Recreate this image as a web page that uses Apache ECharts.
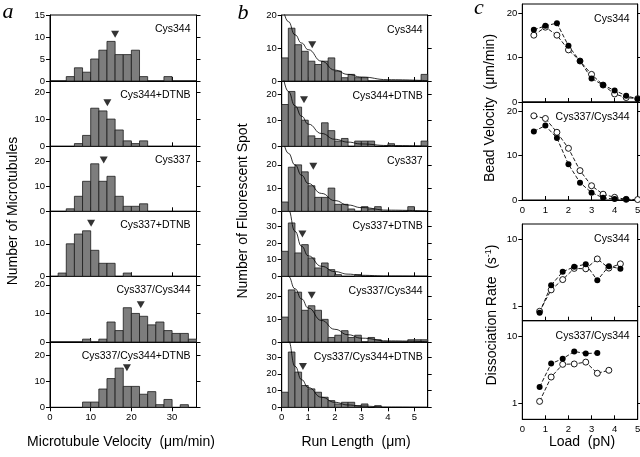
<!DOCTYPE html>
<html lang="en">
<head>
<meta charset="UTF-8">
<title>Microtubule velocity, run length and load dependence</title>
<style>
  html, body { margin: 0; padding: 0; background: #fff; }
  #chart { width: 640px; height: 457px; }
</style>
</head>
<body>
<div id="chart"></div>
<script src="https://cdn.jsdelivr.net/npm/echarts@6/dist/echarts.min.js"></script>
<script>
// ---- data: panel a, microtubule velocity histograms (bins of 2 um/min from 0) ----
const names = ['Cys344', 'Cys344+DTNB', 'Cys337', 'Cys337+DTNB', 'Cys337/Cys344', 'Cys337/Cys344+DTNB']
const velBinWidth = 2
const velCys344 = [0, 0, 1, 3, 2, 5, 7, 9, 6, 6, 7, 1, 0, 0, 1, 0, 0, 0]
const velCys344D = [0, 0, 0, 1, 4, 14, 13, 10, 6, 2, 1, 2, 0, 0, 0, 0, 0, 0]
const velCys337 = [0, 0, 1, 6, 12, 19, 12, 14, 6, 2, 2, 3, 0, 0, 0, 0, 0, 0]
const velCys337D = [0, 1, 10, 13, 14, 8, 4, 4, 0, 1, 0, 0, 0, 0, 0, 0, 0, 0]
const velDouble = [0, 0, 0, 0, 1, 0, 1, 7, 4, 12, 10, 9, 6, 7, 4, 3, 3, 1]
const velDoubleD = [0, 0, 0, 0, 2, 2, 7, 11, 15, 8, 8, 5, 6, 1, 3, 0, 1, 0]
const velMeanX = [16.0, 14.1, 13.2, 10.1, 22.3, 18.9]
const velMeanY = [10.6, 16, 20.5, 16.3, 13, 15.1]
const velYMax = [15, 24, 26, 20, 23, 25]
const velYTicks = [[0, 5, 10, 15], [0, 10, 20], [0, 10, 20], [0, 10], [0, 10, 20], [0, 10, 20]]
const velXTicks = [0, 10, 20, 30]

// ---- data: panel b, run length histograms (bins of 0.25 um from 0) ----
const runBinWidth = 0.25
const runCys344 = [7, 16, 11, 9, 6, 5, 6, 7, 3, 1, 2, 1, 1, 0, 0, 0, 0, 0, 0, 0, 0, 2]
const runCys344D = [16, 21, 15, 10, 4, 3, 9, 6, 2, 3, 0, 2, 2, 2, 0, 0, 1, 0, 0, 0, 0, 2]
const runCys337 = [4, 19, 20, 17, 11, 6, 6, 10, 3, 3, 1, 0, 2, 1, 2, 0, 0, 0, 0, 2, 0, 0]
const runCys337D = [15, 32, 14, 19, 11, 5, 8, 4, 1, 0, 0, 1, 0, 0, 0, 0, 0, 0, 0, 0, 0, 0]
const runDouble = [11, 23, 22, 14, 16, 14, 10, 2, 3, 5, 2, 3, 0, 2, 1, 0, 0, 0, 0, 1, 1, 1]
const runDoubleD = [9, 33, 21, 13, 11, 9, 6, 4, 2, 3, 3, 1, 2, 0, 1, 0, 0, 0, 0, 0, 0, 0]
const runMeanX = [1.15, 0.84, 1.19, 0.78, 1.13, 0.8]
const runMeanY = [11, 17.8, 19.4, 25.4, 20.6, 24.3]
// exponential fit curves
const fitX = [0, 0.25, 0.5, 0.75, 1, 1.5, 2, 2.5, 3, 4, 5.5]
const fitCys344 = [24, 18, 14, 11.5, 9.5, 6, 3.3, 2, 1.2, 0.4, 0.1]
const fitCys344D = [30, 21, 15.5, 11.5, 8.5, 4.9, 2.7, 1.6, 0.9, 0.3, 0.05]
const fitCys337 = [34, 25, 20, 15.5, 12, 7.7, 4.6, 2.7, 1.6, 0.5, 0.1]
const fitCys337D = [60, 40, 27, 18, 12.3, 6, 2.8, 1.3, 0.6, 0.15, 0]
const fitDouble = [36, 29, 23.5, 19, 15, 9.5, 5.6, 3.2, 1.7, 0.5, 0.1]
const fitDoubleD = [62, 40, 24.5, 16.5, 11.8, 6, 3, 1.4, 0.7, 0.15, 0]
const runYMax = [20, 25, 28, 39, 29, 39]
const runYTicks = [[0, 10, 20], [0, 10, 20], [0, 10, 20], [0, 10, 20, 30], [0, 10, 20], [0, 10, 20, 30]]
const runXTicks = [0, 1, 2, 3, 4, 5]

// ---- data: panel c, load dependence (filled = solid circles, open = open circles) ----
const loadV = [0.5, 1, 1.5, 2, 2.5, 3, 3.5, 4, 4.5, 5]
const vel344Filled = [16.2, 17.1, 17.7, 12.6, 9.2, 5.3, 3.8, 2.6, 1.4, 0.7]
const vel344Open = [15, 16.8, 15, 11.7, 9.2, 6.2, 3.8, 1.8, 1.0, 0.75]
const velDblFilled = [15.4, 16.7, 13.9, 8.0, 3.9, 1.65, 0.5, 0.2, 0.15]
const velDblOpen = [18.9, 18.3, 15.2, 11.6, 6.6, 3.2, 1.3, 0.6, 0.15, 0.1]
const loadD = [0.75, 1.25, 1.75, 2.25, 2.75, 3.25, 3.75, 4.25]
const rate344Filled = [0.79, 2.04, 3.25, 3.86, 4.22, 2.42, 3.94, 3.6]
const rate344Open = [0.83, 1.74, 2.48, 3.65, 3.6, 5.06, 3.69, 4.27]
const rateDblFilled = [1.75, 3.9, 4.6, 5.9, 5.5, 5.6]
const rateDblOpen = [1.07, 2.46, 3.8, 3.85, 4.1, 2.8, 3.1]
const loadTicks = [0, 1, 2, 3, 4, 5]
const beadTicks = [0, 10, 20]
const rateTicks = [1, 10]

// ---- layout ----
const rowEdges = [15, 81, 146.3, 211.3, 276.3, 342, 407.3]
const colA = { left: 50, width: 146.5 }
const colB = { left: 281.7, width: 146 }
const colC = { left: 522.3, width: 115.4 }
const rowsC = [[4, 102], [102, 200], [224, 320.7], [320.7, 419.3]]

const FONT = '"Liberation Sans", Arial, sans-serif'
const BAR_FILL = '#7d7d7d'
const BAR_EDGE = '#1c1c1c'

const grids = [], xAxes = [], yAxes = [], series = [], graphics = []

function addGrid(left, width, top, bottom) {
  grids.push({ left: left, top: top, width: width, height: bottom - top,
    show: true, borderColor: '#000', borderWidth: 1, backgroundColor: 'transparent',
    outerBoundsMode: 'none' })
  return grids.length - 1
}

function xAxis(g, min, max, ticks, showLabels, tickInside) {
  xAxes.push({ type: 'value', gridIndex: g, min: min, max: max,
    axisLine: { show: true, onZero: false, lineStyle: { color: '#000', width: 1 } },
    axisTick: { show: true, inside: tickInside, length: 4, customValues: ticks, lineStyle: { color: '#000' } },
    axisLabel: { show: showLabels, customValues: ticks, color: '#000', fontSize: 9.5, fontFamily: FONT, margin: 5 },
    splitLine: { show: false } })
  return xAxes.length - 1
}

function yAxisPair(g, type, min, max, ticks) {
  const base = { type: type, gridIndex: g, min: min, max: max,
    axisLine: { show: true, onZero: false, lineStyle: { color: '#000', width: 1 } },
    splitLine: { show: false } }
  yAxes.push(Object.assign({}, base, { position: 'left',
    axisTick: { show: true, length: 4, customValues: ticks, lineStyle: { color: '#000' } },
    axisLabel: { customValues: ticks, color: '#000', fontSize: 9.5, fontFamily: FONT, margin: 5 } }))
  yAxes.push(Object.assign({}, base, { position: 'right',
    axisTick: { show: true, length: 4, customValues: ticks, lineStyle: { color: '#000' } },
    axisLabel: { show: false } }))
  return yAxes.length - 2
}

function panelTitle(text, right, top) {
  graphics.push({ type: 'text', x: right, y: top,
    style: { text: text, fill: '#000', font: '10.5px ' + FONT, align: 'right', verticalAlign: 'middle' } })
}

function histItem(params, api) {
  const n = api.value(2)
  if (!n) return null
  const p0 = api.coord([api.value(0), n])
  const p1 = api.coord([api.value(1), 0])
  return { type: 'rect',
    shape: { x: p0[0], y: p0[1], width: p1[0] - p0[0], height: p1[1] - p0[1] },
    style: { fill: BAR_FILL, stroke: BAR_EDGE, lineWidth: 0.8 } }
}

function histSeries(xi, yi, counts, binWidth) {
  return { type: 'custom', xAxisIndex: xi, yAxisIndex: yi, renderItem: histItem,
    encode: { x: [0, 1], y: 2 }, silent: true,
    data: counts.map((n, k) => [k * binWidth, (k + 1) * binWidth, n]) }
}

function meanSeries(xi, yi, x, y) {
  return { type: 'scatter', xAxisIndex: xi, yAxisIndex: yi, symbol: 'triangle', symbolRotate: 180,
    symbolSize: [8, 7], itemStyle: { color: '#000' }, silent: true, data: [[x, y]], z: 5 }
}

// column a
const velCounts = [velCys344, velCys344D, velCys337, velCys337D, velDouble, velDoubleD]
velCounts.forEach((counts, i) => {
  const g = addGrid(colA.left, colA.width, rowEdges[i], rowEdges[i + 1])
  const last = i === velCounts.length - 1
  const xi = xAxis(g, 0, 36, velXTicks, last, !last)
  const yi = yAxisPair(g, 'value', 0, velYMax[i], velYTicks[i])
  series.push(histSeries(xi, yi, counts, velBinWidth))
  series.push(meanSeries(xi, yi, velMeanX[i], velMeanY[i]))
  panelTitle(names[i], colA.left + colA.width - 6, rowEdges[i] + 14)
})

// column b
const runCounts = [runCys344, runCys344D, runCys337, runCys337D, runDouble, runDoubleD]
const runFits = [fitCys344, fitCys344D, fitCys337, fitCys337D, fitDouble, fitDoubleD]
runCounts.forEach((counts, i) => {
  const g = addGrid(colB.left, colB.width, rowEdges[i], rowEdges[i + 1])
  const last = i === runCounts.length - 1
  const xi = xAxis(g, 0, 5.5, runXTicks, last, !last)
  const yi = yAxisPair(g, 'value', 0, runYMax[i], runYTicks[i])
  series.push(histSeries(xi, yi, counts, runBinWidth))
  series.push({ type: 'line', xAxisIndex: xi, yAxisIndex: yi, smooth: true, smoothMonotone: 'x',
    showSymbol: false, silent: true, z: 4, lineStyle: { color: '#000', width: 0.8 },
    data: fitX.map((x, k) => [x, runFits[i][k]]) })
  series.push(meanSeries(xi, yi, runMeanX[i], runMeanY[i]))
  panelTitle(names[i], colB.left + colB.width - 5, rowEdges[i] + 15)
})

// column c
const cPanels = [
  { title: 'Cys344', type: 'value', min: 0, max: 22, ticks: beadTicks, x: loadV, filled: vel344Filled, open: vel344Open },
  { title: 'Cys337/Cys344', type: 'value', min: 0, max: 22, ticks: beadTicks, x: loadV, filled: velDblFilled, open: velDblOpen },
  { title: 'Cys344', type: 'log', min: 0.6, max: 16.9, ticks: rateTicks, x: loadD, filled: rate344Filled, open: rate344Open },
  { title: 'Cys337/Cys344', type: 'log', min: 0.58, max: 16.9, ticks: rateTicks, x: loadD, filled: rateDblFilled, open: rateDblOpen }
]
cPanels.forEach((p, j) => {
  const g = addGrid(colC.left, colC.width, rowsC[j][0], rowsC[j][1])
  const xi = xAxis(g, 0, 5, loadTicks, j === 1 || j === 3, true)
  const yi = yAxisPair(g, p.type, p.min, p.max, p.ticks)
  const line = { color: '#000', width: 0.9, type: [4, 2] }
  series.push({ type: 'line', xAxisIndex: xi, yAxisIndex: yi, symbol: 'circle', symbolSize: 6,
    itemStyle: { color: '#fff', borderColor: '#000', borderWidth: 0.9 }, lineStyle: line, silent: true,
    emphasis: { disabled: true }, data: p.open.map((v, k) => [p.x[k], v]) })
  series.push({ type: 'line', xAxisIndex: xi, yAxisIndex: yi, symbol: 'circle', symbolSize: 6,
    itemStyle: { color: '#000', borderWidth: 0 }, lineStyle: line, silent: true, z: 3,
    emphasis: { disabled: true }, data: p.filled.map((v, k) => [p.x[k], v]) })
  panelTitle(p.title, colC.left + colC.width - 8, rowsC[j][0] + 15)
})

// axis titles and panel letters
function label(text, x, y, rotate, rich) {
  graphics.push({ type: 'text', x: x, y: y, rotation: rotate ? Math.PI / 2 : 0,
    style: { text: text, fill: '#000', font: '14px ' + FONT, align: 'center', verticalAlign: 'middle', rich: rich } })
}
label('Number of Microtubules', 13, 211, true)
label('Microtubule Velocity  (\u03bcm/min)', 121, 442, false)
label('Number of Fluorescent Spot', 243, 211, true)
label('Run Length  (\u03bcm)', 356, 442, false)
label('Bead Velocity  (\u03bcm/min)', 490, 108, true)
label('{n|Dissociation Rate  (s}{s|-1}{n|)}', 492, 315, true,
  { n: { fontSize: 14, fontFamily: FONT, fill: '#000' }, s: { fontSize: 9, fontFamily: FONT, fill: '#000', verticalAlign: 'top', padding: [0, 0, 6, 0] } })
label('Load  (pN)', 582, 442, false)

const letterFont = 'italic 22px "Liberation Serif", "Times New Roman", serif'
graphics.push({ type: 'text', x: 8, y: 12, style: { text: 'a', font: letterFont, fill: '#000', align: 'center', verticalAlign: 'middle' } })
graphics.push({ type: 'text', x: 243, y: 13, style: { text: 'b', font: letterFont, fill: '#000', align: 'center', verticalAlign: 'middle' } })
graphics.push({ type: 'text', x: 479, y: 8, style: { text: 'c', font: letterFont, fill: '#000', align: 'center', verticalAlign: 'middle' } })

const myChart = echarts.init(document.getElementById('chart'), null, { renderer: 'canvas' })
myChart.setOption({
  animation: false,
  backgroundColor: '#fff',
  textStyle: { fontFamily: FONT },
  grid: grids,
  xAxis: xAxes,
  yAxis: yAxes,
  series: series,
  graphic: graphics
})
</script>
</body>
</html>
